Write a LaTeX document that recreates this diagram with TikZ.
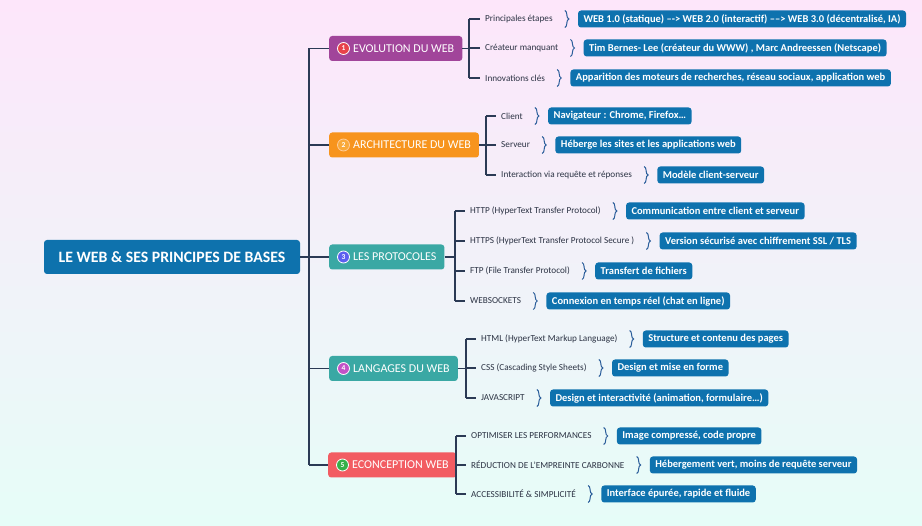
\documentclass[tikz,border=0pt]{standalone}
\usepackage{fontspec}
\setmainfont{Carlito}
\usetikzlibrary{positioning,decorations.pathreplacing}
\definecolor{bgtop}{HTML}{FDE6FA}
\definecolor{bgmid}{HTML}{F1F0F8}
\definecolor{bgbot}{HTML}{E6FDF8}
\definecolor{rootblue}{HTML}{0E72AD}
\definecolor{valblue}{HTML}{0E72AE}
\definecolor{linenavy}{HTML}{2B3A55}
\definecolor{curlblue}{HTML}{2A5D9A}
\definecolor{labgrey}{HTML}{2C3344}
\definecolor{violet1}{HTML}{A1459A}
\definecolor{orange2}{HTML}{F7941D}
\definecolor{teal3}{HTML}{3AA8A4}
\definecolor{coral5}{HTML}{F25C62}
\definecolor{dotred}{HTML}{E8424A}
\definecolor{dotorange}{HTML}{F9A93A}
\definecolor{dotblue}{HTML}{5B5FEF}
\definecolor{dotmagenta}{HTML}{C352C7}
\definecolor{dotgreen}{HTML}{35B04A}
\tikzset{
rootbox/.style={fill=rootblue, rounded corners=3pt, text=white,
  font=\bfseries\fontsize{15.8}{18}\selectfont, minimum width=256pt,
  minimum height=34pt, inner sep=0pt},
mainbox/.style={rounded corners=3pt, text=white, anchor=west,
  font=\fontsize{12}{14}\selectfont, minimum height=25pt,
  inner xsep=8pt, inner ysep=0pt},
numdot/.style={circle, draw=white, line width=0.8pt, text=white,
  font=\bfseries\fontsize{7.5}{8}\selectfont, inner sep=0pt,
  minimum size=12pt},
sublabel/.style={anchor=west, text=labgrey, inner sep=1pt,
  font=\fontsize{9.2}{11}\selectfont},
valbox/.style={fill=valblue, rounded corners=3pt, text=white,
  font=\bfseries\fontsize{10.5}{12}\selectfont, minimum height=17pt,
  inner xsep=5.5pt, inner ysep=0pt},
tree/.style={draw=linenavy, line width=1.6pt},
curl/.style={decorate, decoration={brace, amplitude=4pt},
  draw=curlblue, line width=1pt}
}
\begin{document}
\begin{tikzpicture}[x=1pt,y=-1pt]
\shade[top color=bgtop, middle color=bgmid, bottom color=bgbot]
  (0,0) rectangle (922,526);

% root and main branches
\node[rootbox] (root) at (172,257) {LE WEB \& SES PRINCIPES DE BASES};
\node[mainbox, fill=violet1] (m1) at (329,48.5) {\hspace*{16pt}EVOLUTION DU WEB};
\node[mainbox, fill=orange2] (m2) at (329,145) {\hspace*{16pt}ARCHITECTURE DU WEB};
\node[mainbox, fill=teal3] (m3) at (329,257) {\hspace*{16pt}LES PROTOCOLES};
\node[mainbox, fill=teal3] (m4) at (329,368.5) {\hspace*{16pt}LANGAGES DU WEB};
\node[mainbox, fill=coral5] (m5) at (328,465) {\hspace*{16pt}ECONCEPTION WEB};
\node[numdot, fill=dotred] (n1) at ([xshift=14.5]m1.west) {1};
\node[numdot, fill=dotorange, draw=orange!40] (n2) at ([xshift=14.5]m2.west) {2};
\node[numdot, fill=dotblue] (n3) at ([xshift=14.5]m3.west) {3};
\node[numdot, fill=dotmagenta] (n4) at ([xshift=14.5]m4.west) {4};
\node[numdot, fill=dotgreen] (n5) at ([xshift=14.5]m5.west) {5};

\coordinate (hub) at (309,257);
\draw[tree] (root.east) -- (m3.west);
\draw[tree] (hub |- m1.west) -- (hub |- m5.west);
\draw[tree] (hub |- m1.west) -- (m1.west);
\draw[tree] (hub |- m2.west) -- (m2.west);
\draw[tree] (hub |- m4.west) -- (m4.west);
\draw[tree] (hub |- m5.west) -- (m5.west);

% 1 evolution
\coordinate (k1) at (469,48.5);
\node[sublabel] (s11) at (484,19) {Principales étapes};
\node[sublabel] (s12) at (484,48) {Créateur manquant};
\node[sublabel] (s13) at (484,78) {Innovations clés};
\node[valbox, right=24pt of s11] (v11) {WEB 1.0 (statique) –-> WEB 2.0 (interactif) ––> WEB 3.0 (décentralisé, IA)};
\node[valbox, right=24pt of s12] (v12) {Tim Bernes- Lee (créateur du WWW) , Marc Andreessen (Netscape)};
\node[valbox, right=24pt of s13] (v13) {Apparition des moteurs de recherches, réseau sociaux, application web};
\draw[tree] (m1.east) -- (k1);
\draw[tree] (k1 |- s11.west) -- (k1 |- s13.west);
\draw[tree] (k1 |- s11.west) -- ([xshift=-4]s11.west);
\draw[tree] (k1 |- s12.west) -- ([xshift=-4]s12.west);
\draw[tree] (k1 |- s13.west) -- ([xshift=-4]s13.west);
\draw[curl] ([shift={(11,-8.5)}]s11.east) -- ([shift={(11,8.5)}]s11.east);
\draw[curl] ([shift={(11,-8.5)}]s12.east) -- ([shift={(11,8.5)}]s12.east);
\draw[curl] ([shift={(11,-8.5)}]s13.east) -- ([shift={(11,8.5)}]s13.east);

% 2 architecture
\coordinate (k2) at (486,145);
\node[sublabel] (s21) at (500,116) {Client};
\node[sublabel] (s22) at (500,145) {Serveur};
\node[sublabel] (s23) at (500,175) {Interaction via requête et réponses};
\node[valbox, right=24pt of s21] (v21) {Navigateur : Chrome, Firefox…};
\node[valbox, right=24pt of s22] (v22) {Héberge les sites et les applications web};
\node[valbox, right=24pt of s23] (v23) {Modèle client-serveur};
\draw[tree] (m2.east) -- (k2);
\draw[tree] (k2 |- s21.west) -- (k2 |- s23.west);
\draw[tree] (k2 |- s21.west) -- ([xshift=-4]s21.west);
\draw[tree] (k2 |- s22.west) -- ([xshift=-4]s22.west);
\draw[tree] (k2 |- s23.west) -- ([xshift=-4]s23.west);
\draw[curl] ([shift={(11,-8.5)}]s21.east) -- ([shift={(11,8.5)}]s21.east);
\draw[curl] ([shift={(11,-8.5)}]s22.east) -- ([shift={(11,8.5)}]s22.east);
\draw[curl] ([shift={(11,-8.5)}]s23.east) -- ([shift={(11,8.5)}]s23.east);

% 3 protocoles
\coordinate (k3) at (455,257);
\node[sublabel] (s31) at (469,211) {HTTP (HyperText Transfer Protocol)};
\node[sublabel] (s32) at (469,241) {HTTPS (HyperText Transfer Protocol Secure )};
\node[sublabel] (s33) at (469,271) {FTP (File Transfer Protocol)};
\node[sublabel] (s34) at (469,301) {WEBSOCKETS};
\node[valbox, right=24pt of s31] (v31) {Communication entre client et serveur};
\node[valbox, right=24pt of s32] (v32) {Version sécurisé avec chiffrement SSL / TLS};
\node[valbox, right=24pt of s33] (v33) {Transfert de fichiers};
\node[valbox, right=24pt of s34] (v34) {Connexion en temps réel (chat en ligne)};
\draw[tree] (m3.east) -- (k3);
\draw[tree] (k3 |- s31.west) -- (k3 |- s34.west);
\draw[tree] (k3 |- s31.west) -- ([xshift=-4]s31.west);
\draw[tree] (k3 |- s32.west) -- ([xshift=-4]s32.west);
\draw[tree] (k3 |- s33.west) -- ([xshift=-4]s33.west);
\draw[tree] (k3 |- s34.west) -- ([xshift=-4]s34.west);
\draw[curl] ([shift={(11,-8.5)}]s31.east) -- ([shift={(11,8.5)}]s31.east);
\draw[curl] ([shift={(11,-8.5)}]s32.east) -- ([shift={(11,8.5)}]s32.east);
\draw[curl] ([shift={(11,-8.5)}]s33.east) -- ([shift={(11,8.5)}]s33.east);
\draw[curl] ([shift={(11,-8.5)}]s34.east) -- ([shift={(11,8.5)}]s34.east);

% 4 langages
\coordinate (k4) at (466,368.5);
\node[sublabel] (s41) at (480,339) {HTML (HyperText Markup Language)};
\node[sublabel] (s42) at (480,368) {CSS (Cascading Style Sheets)};
\node[sublabel] (s43) at (480,398) {JAVASCRIPT};
\node[valbox, right=24pt of s41] (v41) {Structure et contenu des pages};
\node[valbox, right=24pt of s42] (v42) {Design et mise en forme};
\node[valbox, right=24pt of s43] (v43) {Design et interactivité (animation, formulaire…)};
\draw[tree] (m4.east) -- (k4);
\draw[tree] (k4 |- s41.west) -- (k4 |- s43.west);
\draw[tree] (k4 |- s41.west) -- ([xshift=-4]s41.west);
\draw[tree] (k4 |- s42.west) -- ([xshift=-4]s42.west);
\draw[tree] (k4 |- s43.west) -- ([xshift=-4]s43.west);
\draw[curl] ([shift={(11,-8.5)}]s41.east) -- ([shift={(11,8.5)}]s41.east);
\draw[curl] ([shift={(11,-8.5)}]s42.east) -- ([shift={(11,8.5)}]s42.east);
\draw[curl] ([shift={(11,-8.5)}]s43.east) -- ([shift={(11,8.5)}]s43.east);

% 5 econception
\coordinate (k5) at (456,465);
\node[sublabel] (s51) at (470,436) {OPTIMISER LES PERFORMANCES};
\node[sublabel] (s52) at (470,465) {RÉDUCTION DE L'EMPREINTE CARBONNE};
\node[sublabel] (s53) at (470,494) {ACCESSIBILITÉ \& SIMPLICITÉ};
\node[valbox, right=24pt of s51] (v51) {Image compressé, code propre};
\node[valbox, right=24pt of s52] (v52) {Hébergement vert, moins de requête serveur};
\node[valbox, right=24pt of s53] (v53) {Interface épurée, rapide et fluide};
\draw[tree] (m5.east) -- (k5);
\draw[tree] (k5 |- s51.west) -- (k5 |- s53.west);
\draw[tree] (k5 |- s51.west) -- ([xshift=-4]s51.west);
\draw[tree] (k5 |- s52.west) -- ([xshift=-4]s52.west);
\draw[tree] (k5 |- s53.west) -- ([xshift=-4]s53.west);
\draw[curl] ([shift={(11,-8.5)}]s51.east) -- ([shift={(11,8.5)}]s51.east);
\draw[curl] ([shift={(11,-8.5)}]s52.east) -- ([shift={(11,8.5)}]s52.east);
\draw[curl] ([shift={(11,-8.5)}]s53.east) -- ([shift={(11,8.5)}]s53.east);
\end{tikzpicture}
\end{document}
